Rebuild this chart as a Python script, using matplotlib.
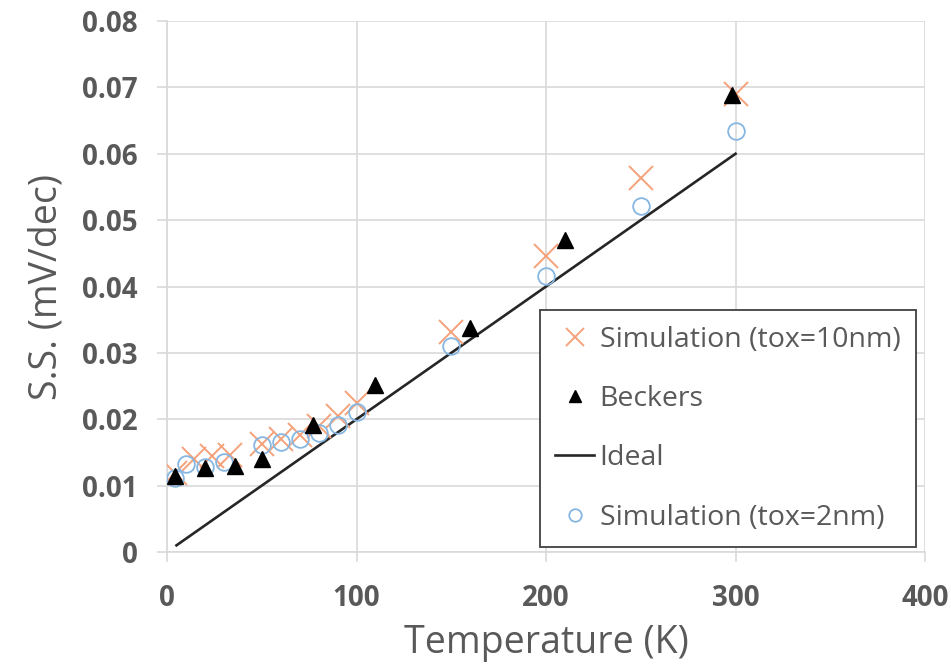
import matplotlib
matplotlib.use("Agg")
import matplotlib.pyplot as plt
from matplotlib.ticker import FixedLocator, FuncFormatter

# Subthreshold swing vs temperature
sim10_t = [4, 14, 24, 33, 50, 60, 70, 80, 90, 100, 150, 200, 250, 300]
sim10_ss = [0.0119, 0.0140, 0.0144, 0.0146, 0.0163, 0.0170, 0.0177, 0.0190,
            0.0205, 0.0225, 0.0331, 0.0446, 0.0564, 0.0690]

beck_t = [4, 20, 36, 50, 77, 110, 160, 210, 298]
beck_ss = [0.0114, 0.0127, 0.0130, 0.0140, 0.0192, 0.0252, 0.0338, 0.0470, 0.0688]

ideal_t = [5, 300]
ideal_ss = [0.001, 0.060]

sim2_t = [4, 10, 20, 30, 50, 60, 70, 80, 90, 100, 150, 200, 250, 300]
sim2_ss = [0.0112, 0.0132, 0.0128, 0.0136, 0.0161, 0.0166, 0.0170, 0.0180,
           0.0192, 0.0211, 0.0310, 0.0416, 0.0521, 0.0634]

xticks = [0, 100, 200, 300, 400]
yticks = [0, 0.01, 0.02, 0.03, 0.04, 0.05, 0.06, 0.07, 0.08]

plt.rcParams['font.family'] = ['Open Sans', 'DejaVu Sans']
txt = '#595959'
grid = '#d9d9d9'

fig = plt.figure(figsize=(9.51, 6.72), dpi=100)
ax = fig.add_axes([0.1756, 0.1786, 0.7971, 0.7901])

ax.plot(sim10_t, sim10_ss, linestyle='none', marker='x', markersize=17,
        markeredgewidth=1.4, color='#F5A27C', label='Simulation (tox=10nm)', zorder=3)
ax.plot(beck_t, beck_ss, linestyle='none', marker='^', markersize=12,
        color='black', label='Beckers', zorder=4)
ax.plot(ideal_t, ideal_ss, color='#262626', linewidth=1.9, label='Ideal', zorder=2)
ax.plot(sim2_t, sim2_ss, linestyle='none', marker='o', markersize=12,
        markerfacecolor='none', markeredgewidth=1.3, color='#86B6E2',
        label='Simulation (tox=2nm)', zorder=3)

ax.set_xlim(0, 400)
ax.set_ylim(0, 0.08)
ax.xaxis.set_major_locator(FixedLocator(xticks))
ax.yaxis.set_major_locator(FixedLocator(yticks))
ax.yaxis.set_major_formatter(FuncFormatter(lambda v, p: '0' if v == 0 else '%g' % v))

ax.grid(True, color=grid, linewidth=1.2)
ax.set_axisbelow(True)
for side in ['top', 'right']:
    ax.spines[side].set_visible(False)
for side in ['left', 'bottom']:
    ax.spines[side].set_color(grid)
    ax.spines[side].set_linewidth(1.2)

ax.tick_params(axis='both', colors=grid, length=7, width=1.2, labelcolor=txt,
               labelsize=20)
ax.tick_params(axis='y', pad=14)
ax.tick_params(axis='x', pad=16)
for lbl in ax.get_xticklabels() + ax.get_yticklabels():
    lbl.set_fontweight('bold')

ax.set_xlabel('Temperature (K)', fontsize=27, color=txt, labelpad=8)
ax.set_ylabel('S.S. (mV/dec)', fontsize=27, color=txt, labelpad=12)

leg = ax.legend(loc='lower right', bbox_to_anchor=(0.988, 0.009), fontsize=20.5,
                frameon=True, fancybox=False, markerscale=0.75, handlelength=1.35,
                handletextpad=0.2, labelspacing=1.1, borderpad=0.55,
                borderaxespad=0, labelcolor=txt)
leg.get_frame().set_edgecolor('#404040')
leg.get_frame().set_linewidth(1.3)
leg.get_frame().set_alpha(1)

fig.savefig('out.png', dpi=100)
